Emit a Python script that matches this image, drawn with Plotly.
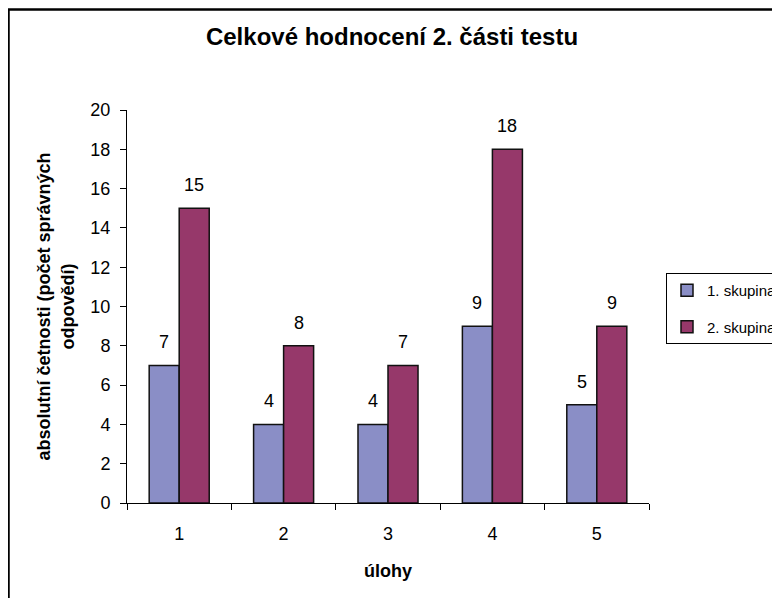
import plotly.graph_objects as go

categories = ["1", "2", "3", "4", "5"]
skupina1 = [7, 4, 4, 9, 5]
skupina2 = [15, 8, 7, 18, 9]
series_names = ["1. skupina", "2. skupina"]
y_ticks = [0, 2, 4, 6, 8, 10, 12, 14, 16, 18, 20]

# page is offset by the 8px body margin
W, H = 780, 598
L, R, T, B = 119, 139, 102, 103
pw, ph = W - L - R, H - T - B

def px_x(p):
    return (p - L) / pw

def px_y(p):
    return (H - B - p) / ph

font = "Liberation Sans, Arial, sans-serif"
colors = ["#8A8EC6", "#96386A"]

fig = go.Figure()
for name, vals, col, grp in [(series_names[0], skupina1, colors[0], "a"),
                             (series_names[1], skupina2, colors[1], "b")]:
    fig.add_trace(go.Bar(
        x=categories, y=vals, name=name, legendgroup=grp,
        marker=dict(color=col, line=dict(color="#111111", width=1.5)),
    ))

# data labels (category index positions, shifted to each bar of the group)
for vals, shift in [(skupina1, -15), (skupina2, 15)]:
    for i, v in enumerate(vals):
        fig.add_annotation(x=i, y=v, xref="x", yref="y", text=str(v),
                           showarrow=False, xshift=shift, yshift=11,
                           yanchor="bottom", xanchor="center",
                           font=dict(size=18, family=font, color="#000000"))

fig.update_layout(
    width=W, height=H,
    margin=dict(l=L, r=R, t=T, b=B, autoexpand=False),
    paper_bgcolor="white", plot_bgcolor="white",
    barmode="group", bargap=0.425, bargroupgap=0,
    font=dict(family=font, color="#000000"),
    title=dict(text="<b>Celkové hodnocení 2. části testu</b>",
               x=384 / W, xanchor="center", y=1 - 29 / H, yanchor="middle",
               font=dict(size=24, family=font, color="#000000")),
    xaxis=dict(
        type="category", showline=True, linecolor="#000000", linewidth=1,
        range=[-0.5, 4.5],
        ticks="outside", ticklen=6, tickcolor="#000000", tickson="boundaries",
        tickfont=dict(size=18, family=font), showgrid=False,
        ticklabelstandoff=14,
        title=dict(text="<b>úlohy</b>", font=dict(size=18, family=font), standoff=21),
    ),
    yaxis=dict(
        range=[0, 20], tickvals=y_ticks, showline=True, linecolor="#000000", linewidth=1,
        ticks="outside", ticklen=6, tickcolor="#000000", showgrid=False, zeroline=False,
        tickfont=dict(size=18, family=font), ticklabelstandoff=6,
        title=dict(text="<b>absolutní četnosti (počet správných<br>odpovědí)</b>",
                   font=dict(size=18, family=font), standoff=11),
    ),
    legend=dict(
        x=px_x(658), y=px_y(265), xanchor="left", yanchor="top",
        bordercolor="#000000", borderwidth=1, bgcolor="white",
        font=dict(size=15, family=font), tracegroupgap=14,
        traceorder="grouped", itemwidth=30,
    ),
    showlegend=True,
)

fig.add_shape(type="rect", xref="paper", yref="paper",
              x0=px_x(0.5), x1=px_x(W + 30), y0=px_y(H + 30), y1=px_y(1.5),
              line=dict(color="#000000", width=2.5), fillcolor="rgba(0,0,0,0)",
              layer="above")

fig.write_html("out.html")
